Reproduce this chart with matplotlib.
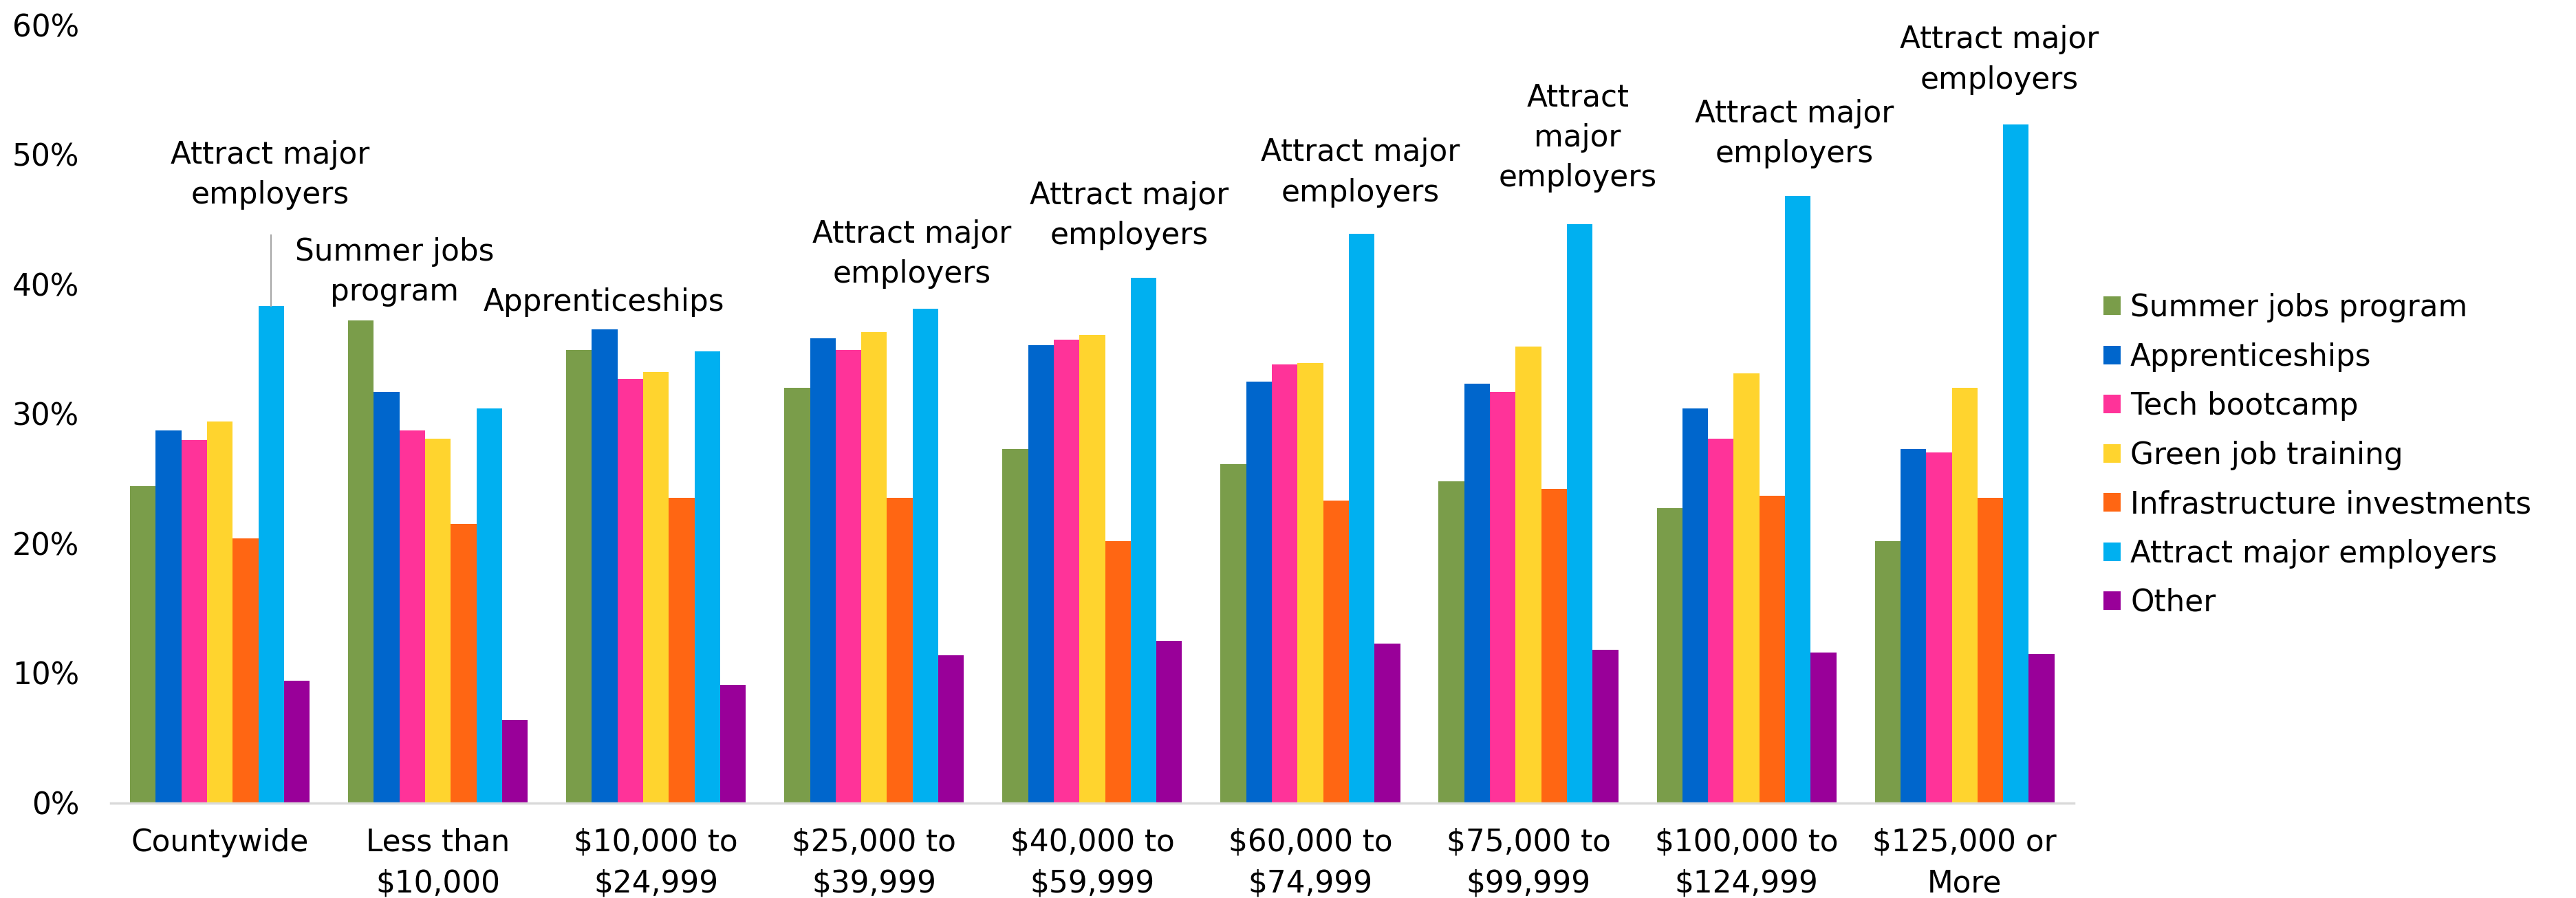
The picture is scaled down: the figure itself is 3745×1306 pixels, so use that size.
import numpy as np
import matplotlib.pyplot as plt
from matplotlib.ticker import PercentFormatter

plt.rcParams['font.family'] = ['DejaVu Sans']

# --- data (share of respondents, %) ---
categories = ['Countywide', 'Less than\n$10,000', '$10,000 to\n$24,999', '$25,000 to\n$39,999',
              '$40,000 to\n$59,999', '$60,000 to\n$74,999', '$75,000 to\n$99,999',
              '$100,000 to\n$124,999', '$125,000 or\nMore']
series_names = ['Summer jobs program', 'Apprenticeships', 'Tech bootcamp', 'Green job training',
                'Infrastructure investments', 'Attract major employers', 'Other']

summer_jobs = [24.4, 37.2, 34.9, 32.0, 27.3, 26.1, 24.8, 22.7, 20.2]
apprenticeships = [28.7, 31.7, 36.5, 35.8, 35.3, 32.5, 32.3, 30.4, 27.3]
tech_bootcamp = [28.0, 28.7, 32.7, 34.9, 35.7, 33.8, 31.7, 28.1, 27.0]
green_jobs = [29.4, 28.1, 33.2, 36.3, 36.1, 33.9, 35.2, 33.1, 32.0]
infrastructure = [20.4, 21.5, 23.5, 23.5, 20.2, 23.3, 24.2, 23.7, 23.5]
attract_employers = [38.3, 30.4, 34.8, 38.1, 40.5, 43.9, 44.6, 46.8, 52.3]
other = [9.4, 6.4, 9.1, 11.4, 12.5, 12.3, 11.8, 11.6, 11.5]

# top option per group, shown as a note above the bars
top_labels = ['Attract major\nemployers', 'Summer jobs\nprogram', 'Apprenticeships',
              'Attract major\nemployers', 'Attract major\nemployers', 'Attract major\nemployers',
              'Attract\nmajor\nemployers', 'Attract major\nemployers', 'Attract major\nemployers']

colors = ['#7A9D4A', '#0066CC', '#FF3399', '#FFD42E', '#FF6613', '#00B0F0', '#990099']

series = [summer_jobs, apprenticeships, tech_bootcamp, green_jobs,
          infrastructure, attract_employers, other]

fig = plt.figure(figsize=(37.45, 13.06), dpi=100)
ax = fig.add_axes([0.043, 0.106, 0.762, 0.8664])

x = np.arange(len(categories))
w = 1 / 8.5
for i, (vals, name, c) in enumerate(zip(series, series_names, colors)):
    ax.bar(x + (i - 3) * w, vals, width=w, color=c, label=name)

# annotation placement (x in category units, y in %)
label_pos = [(0.23, 48.4), (0.80, 40.95), (1.762, 38.6), (3.172, 42.3), (4.169, 45.3),
             (5.229, 48.6), (6.226, 51.3), (7.219, 51.6), (8.159, 57.3)]
for txt, (lx, ly) in zip(top_labels, label_pos):
    ax.text(lx, ly, txt, ha='center', va='center', multialignment='center',
            fontsize=31.5, linespacing=1.45)
# leader line for the countywide note
lead_x = 2 * w
ax.plot([lead_x, lead_x], [attract_employers[0], 43.75], color='#A6A6A6', lw=1.5)

ax.set_xlim(-0.5, len(categories) - 0.5)
ax.set_ylim(0, 60)
ax.set_yticks(np.arange(0, 61, 10))
ax.yaxis.set_major_formatter(PercentFormatter(decimals=0))
ax.set_xticks(x)
ax.set_xticklabels(categories, fontsize=31.5, linespacing=1.5)
ax.tick_params(axis='y', length=0, pad=33, labelsize=31.5)
ax.tick_params(axis='x', length=0, pad=26)

for s in ['top', 'right', 'left']:
    ax.spines[s].set_visible(False)
ax.spines['bottom'].set_color('#D9D9D9')
ax.spines['bottom'].set_linewidth(2.5)

fig.legend(loc='center left', bbox_to_anchor=(0.8166, 0.493), frameon=False,
           fontsize=31.5, handlelength=0.57, handleheight=0.57, handletextpad=0.32,
           labelspacing=0.65, borderpad=0, borderaxespad=0)

fig.savefig('out.png', dpi=100)
